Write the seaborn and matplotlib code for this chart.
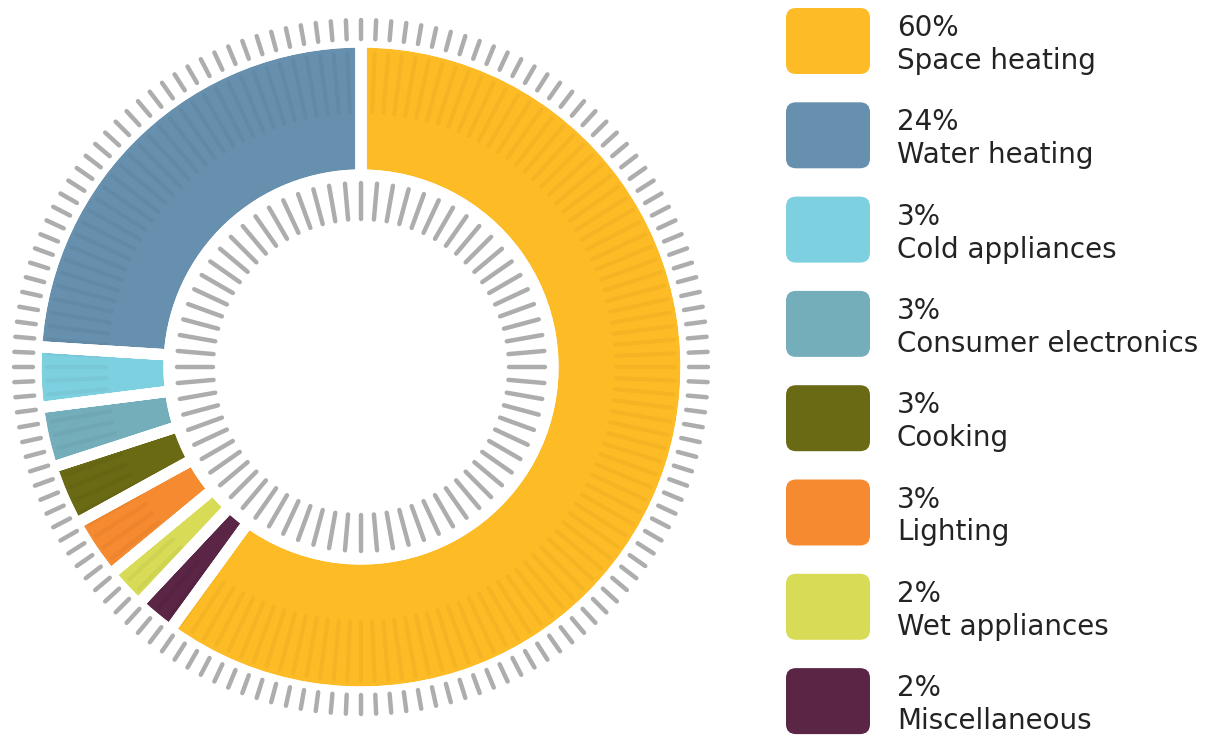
import numpy as np
import matplotlib
matplotlib.use('Agg')
import matplotlib.pyplot as plt
import seaborn as sns
from matplotlib.patches import FancyBboxPatch, Wedge
from matplotlib.collections import LineCollection

## data: ring order (clockwise from 12 o'clock)
ring_labels = ['Space heating', 'Miscellaneous', 'Wet appliances', 'Lighting',
               'Cooking', 'Consumer electronics', 'Cold appliances', 'Water heating']
ring_values = [60, 2, 2, 3, 3, 3, 3, 24]

## legend order
legend_labels = ['Space heating', 'Water heating', 'Cold appliances',
                 'Consumer electronics', 'Cooking', 'Lighting',
                 'Wet appliances', 'Miscellaneous']

colors = {'Space heating': '#FDBB25', 'Water heating': '#6690AD',
          'Cold appliances': '#7DD0E0', 'Consumer electronics': '#74AEBB',
          'Cooking': '#6A6914', 'Lighting': '#F58A30',
          'Wet appliances': '#D7DB55', 'Miscellaneous': '#5B2545'}

sns.set_theme(style='white')
plt.rcParams['font.family'] = ['DejaVu Sans']

W, H = 1215, 735
fig = plt.figure(figsize=(W / 100, H / 100), dpi=100)
ax = fig.add_axes([0, 0, 1, 1])

cx, cy = 361, H - 367

## donut
wedges, _ = ax.pie(ring_values, colors=[colors[l] for l in ring_labels],
                   startangle=90, counterclock=False, radius=325, center=(cx, cy),
                   wedgeprops=dict(width=133, edgecolor='white', linewidth=8))

## decorative dashes, outer and inner
def dash_ring(n, r0, r1, lw, col='#ADADAD', alpha=1.0, z=2):
  ang = np.linspace(0, 2 * np.pi, n, endpoint=False) + np.pi / 2
  segs = [[(cx + r0 * np.cos(a), cy + r0 * np.sin(a)),
           (cx + r1 * np.cos(a), cy + r1 * np.sin(a))] for a in ang]
  lc = LineCollection(segs, colors=col, linewidths=lw, capstyle='round',
                      alpha=alpha, zorder=z)
  ax.add_collection(lc)
  return lc

dash_ring(144, 328, 347, 3.2)
dash_ring(72, 148, 184, 3.2)

## faint stripes showing through the ring, then the white gaps on top again
for w in wedges:
  lc = dash_ring(144, 255, 314, 3.0, col='#000000', alpha=0.035, z=1.5)
  lc.set_clip_path(w)
  ax.add_patch(Wedge(w.center, w.r, w.theta1, w.theta2, width=w.width,
                     facecolor='none', edgecolor='white', linewidth=8, zorder=1.6))

## legend
for i, lab in enumerate(legend_labels):
  top = 8 + i * 94.3
  ax.add_patch(FancyBboxPatch((786, H - top - 66), 84, 66,
                              boxstyle='round,pad=0,rounding_size=10',
                              facecolor=colors[lab], edgecolor='none'))
  ax.text(897, H - top - 28, '{0}%'.format(ring_values[ring_labels.index(lab)]),
          fontsize=20, color='#232323', va='baseline', ha='left')
  ax.text(897, H - top - 61, lab, fontsize=20, color='#232323',
          va='baseline', ha='left')

ax.set_xlim(0, W)
ax.set_ylim(0, H)
ax.set_aspect('equal')
ax.axis('off')

fig.savefig('out.png', dpi=100, facecolor='white')
